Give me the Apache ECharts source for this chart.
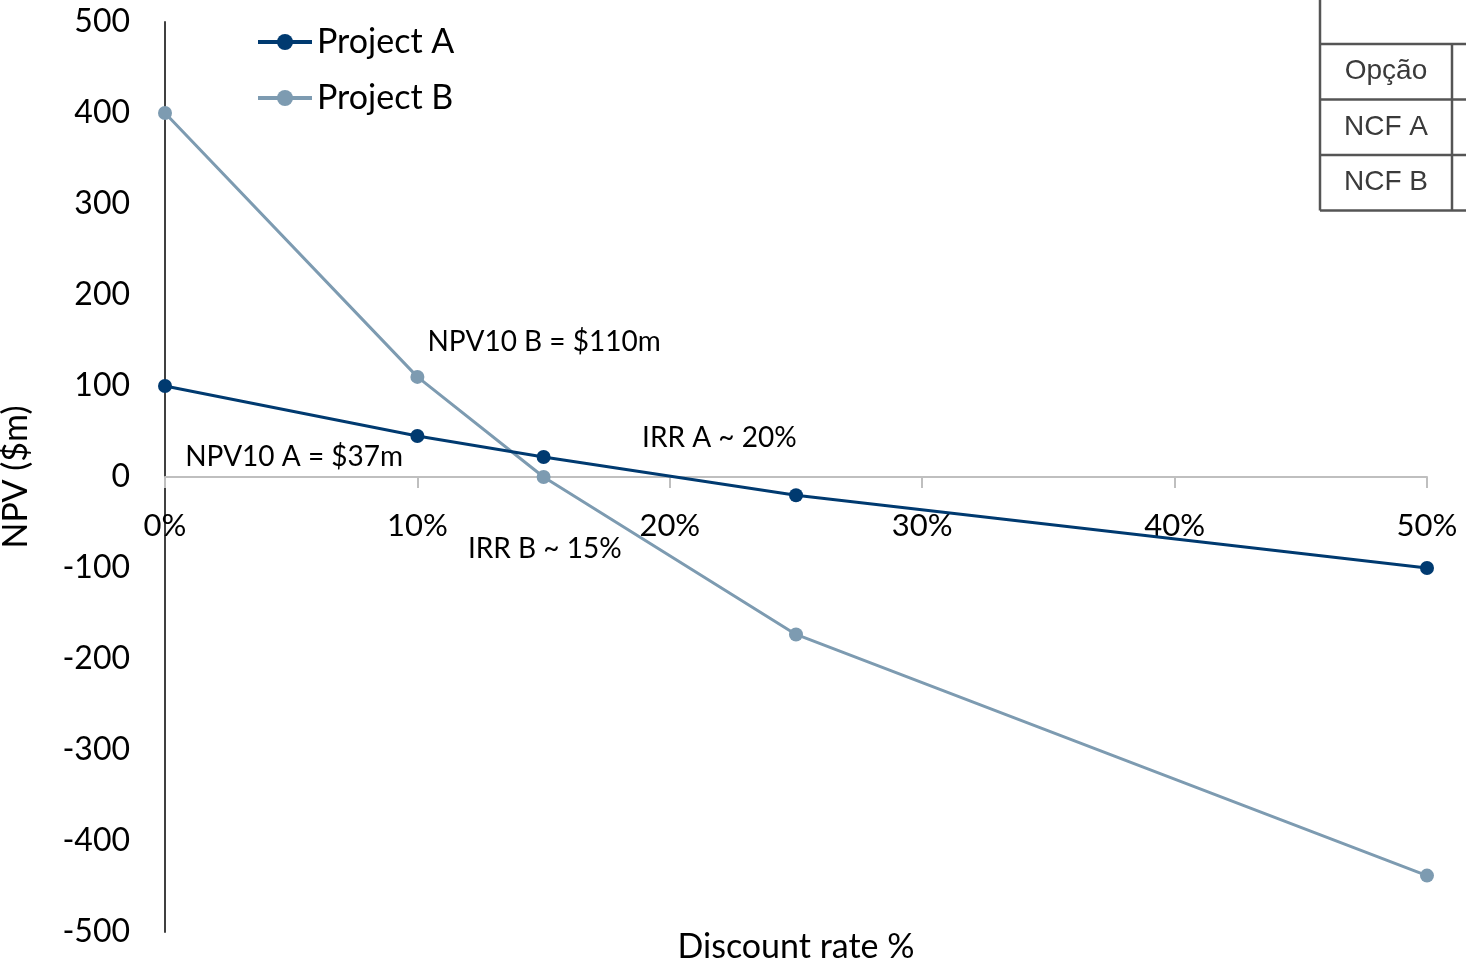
<!DOCTYPE html>
<html>
<head>
<meta charset="utf-8">
<title>NPV profile</title>
<script src="https://cdn.jsdelivr.net/npm/echarts@6/dist/echarts.min.js"></script>
<style>
  html, body { margin: 0; padding: 0; background: #ffffff; }
  #chart { width: 1466px; height: 965px; }
</style>
</head>
<body>
<div id="chart"></div>
<script>
// Discount rates (%) and NPV ($m) for each project
const discountRates = [0, 10, 15, 25, 50];
const npvProjectA = [100, 45, 22, -20, -100];
const npvProjectB = [400, 110, 0, -173, -438];
const seriesNames = ['Project A', 'Project B'];

// Notes placed in data units: [x %, y $m, text]
const notes = [
  [10.4, 148, 'NPV10 B = $110m'],
  [0.8, 22, 'NPV10 A = $37m'],
  [18.9, 43, 'IRR A ~ 20%'],
  [12.0, -79, 'IRR B ~ 15%']
];

// Row headers of the inset table
const tableRows = ['Opção', 'NCF A', 'NCF B'];

const FONT = 'Lato, "Open Sans", sans-serif';
const colorA = '#003a70';
const colorB = '#7d9bb1';
const GRID = { left: 165, right: 39, top: 22, bottom: 33 };
const HEIGHT = 965;

const chart = echarts.init(document.getElementById('chart'), null, { renderer: 'canvas' });

function pairs(xs, ys) { return xs.map((x, i) => [x, ys[i]]); }

const option = {
  backgroundColor: '#ffffff',
  animation: false,
  textStyle: { fontFamily: FONT },
  grid: { left: GRID.left, right: GRID.right, top: GRID.top, bottom: GRID.bottom, containLabel: false, outerBoundsMode: 'none' },
  legend: {
    orient: 'vertical',
    left: 251,
    top: 20,
    itemWidth: 54,
    itemHeight: 20,
    itemGap: 22,
    lineStyle: { width: 4 },
    textStyle: { fontFamily: FONT, fontSize: 34, color: '#000000' },
    data: seriesNames
  },
  xAxis: {
    type: 'value',
    position: 'bottom',
    min: 0,
    max: 50,
    interval: 10,
    offset: 0,
    axisLine: { onZero: false, lineStyle: { color: '#bfbfbf', width: 2 } },
    axisTick: { show: true, length: 11, lineStyle: { color: '#bfbfbf', width: 2 } },
    axisLabel: { formatter: '{value}%', fontSize: 31, color: '#000000', margin: 33, fontFamily: FONT },
    splitLine: { show: false }
  },
  yAxis: {
    type: 'value',
    min: -500,
    max: 500,
    interval: 100,
    axisLine: { show: true, onZero: false, lineStyle: { color: '#404040', width: 2 } },
    axisTick: { show: false },
    axisLabel: { fontSize: 32, color: '#000000', margin: 35, fontFamily: FONT },
    splitLine: { show: false },
    name: 'NPV ($m)',
    nameLocation: 'middle',
    nameGap: 132,
    nameRotate: 90,
    nameTextStyle: { fontSize: 34, color: '#000000', fontFamily: FONT }
  },
  series: [
    {
      name: seriesNames[0],
      type: 'line',
      data: pairs(discountRates, npvProjectA),
      symbol: 'circle',
      symbolSize: 14,
      lineStyle: { color: colorA, width: 3 },
      itemStyle: { color: colorA },
      z: 3
    },
    {
      name: seriesNames[1],
      type: 'line',
      data: pairs(discountRates, npvProjectB),
      symbol: 'circle',
      symbolSize: 14,
      lineStyle: { color: colorB, width: 3 },
      itemStyle: { color: colorB },
      z: 2
    }
  ]
};

chart.setOption(option);

// Move the x axis (line, ticks and labels) up to the NPV = 0 level
const zeroY = chart.convertToPixel({ yAxisIndex: 0 }, 0);
const gridBottomY = HEIGHT - GRID.bottom;
chart.setOption({ xAxis: { offset: zeroY - gridBottomY } });

const graphics = [];

// X axis title under the plot area
graphics.push({
  type: 'text',
  x: 796,
  y: 947,
  style: {
    text: 'Discount rate %',
    font: '34px ' + FONT,
    fill: '#000000',
    textAlign: 'center',
    textVerticalAlign: 'middle'
  },
  z: 10
});

// Inset table fragment in the top-right corner
const tableLeft = 1320, tableColX = 1452, rowTop = 44, rowH = 55.5;
const tableLine = { stroke: '#555555', lineWidth: 2.5 };
graphics.push({ type: 'line', shape: { x1: tableLeft, y1: 0, x2: tableLeft, y2: rowTop + rowH * 3 }, style: tableLine, z: 10 });
graphics.push({ type: 'line', shape: { x1: tableColX, y1: rowTop, x2: tableColX, y2: rowTop + rowH * 3 }, style: tableLine, z: 10 });
for (let i = 0; i <= 3; i++) {
  const y = rowTop + rowH * i;
  graphics.push({ type: 'line', shape: { x1: tableLeft, y1: y, x2: 1466, y2: y }, style: tableLine, z: 10 });
}
tableRows.forEach((t, i) => {
  graphics.push({
    type: 'text',
    x: (tableLeft + tableColX) / 2,
    y: rowTop + rowH * i + rowH / 2,
    style: {
      text: t,
      font: '28px "Liberation Sans", Arial, sans-serif',
      fill: '#3a3a3a',
      textAlign: 'center',
      textVerticalAlign: 'middle'
    },
    z: 10
  });
});

// Text notes anchored to data coordinates
notes.forEach(n => {
  const p = chart.convertToPixel({ gridIndex: 0 }, [n[0], n[1]]);
  graphics.push({
    type: 'text',
    x: p[0],
    y: p[1],
    style: {
      text: n[2],
      font: '28px ' + FONT,
      fill: '#000000',
      textAlign: 'left',
      textVerticalAlign: 'middle'
    },
    z: 10
  });
});

chart.setOption({ graphic: graphics });
</script>
</body>
</html>
